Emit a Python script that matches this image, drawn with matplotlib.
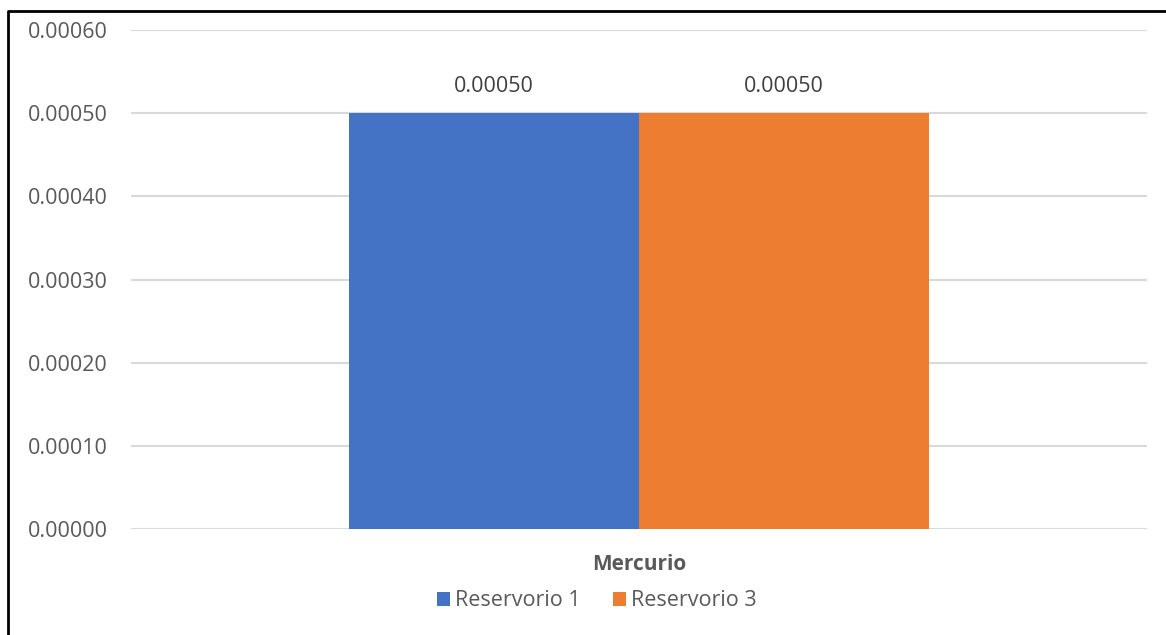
from matplotlib import pyplot as plt
from matplotlib.lines import Line2D
import numpy as np

# datos
categorias = ['Mercurio']
series = ['Reservorio 1', 'Reservorio 3']
valores = [[0.0005], [0.0005]]
colores = ['#4472C4', '#ED7D31']
ticks_y = [0.0, 0.0001, 0.0002, 0.0003, 0.0004, 0.0005, 0.0006]

plt.rcParams['font.family'] = ['Open Sans', 'DejaVu Sans']

fig = plt.figure(figsize=(11.66, 6.35), dpi=100)
ax = fig.add_axes([131/1166, 1 - 529/635, 1016/1166, 499/635])

x = np.arange(len(categorias))
ancho = 0.2855
for i, (nombre, v) in enumerate(zip(series, valores)):
    pos = x + (i - 0.5) * ancho
    barras = ax.bar(pos, v, ancho, color=colores[i], label=nombre, zorder=3)
    ax.bar_label(barras, labels=[f'{val:.5f}' for val in v], padding=12,
                 fontsize=15.5, color='#404040')

ax.set_xlim(-0.5, 0.5)
ax.set_ylim(0, 0.0006)
ax.set_yticks(ticks_y)
ax.set_yticklabels([f'{t:.5f}' for t in ticks_y], fontsize=15.5, color='#595959')
ax.set_xticks(x)
ax.set_xticklabels(categorias, fontsize=15, fontweight='bold', color='#595959')
ax.tick_params(axis='both', length=0)
ax.tick_params(axis='y', pad=16.5)
ax.tick_params(axis='x', pad=18)
ax.grid(axis='y', color='#d9d9d9', linewidth=1.5, zorder=0)
for s in ax.spines.values():
    s.set_visible(False)

ley = fig.legend(loc='center', bbox_to_anchor=(597/1166, 1 - 601/635), ncol=2,
                 frameon=False, fontsize=15.5, handlelength=0.6, handleheight=0.6,
                 handletextpad=0.25, columnspacing=1.5)
for t in ley.get_texts():
    t.set_color('#595959')

# marco
fig.add_artist(Line2D([8/1166, 8/1166, 1], [0, 1 - 11/635, 1 - 11/635],
                      transform=fig.transFigure, color='black', linewidth=2))

fig.savefig('out.png', dpi=100)
